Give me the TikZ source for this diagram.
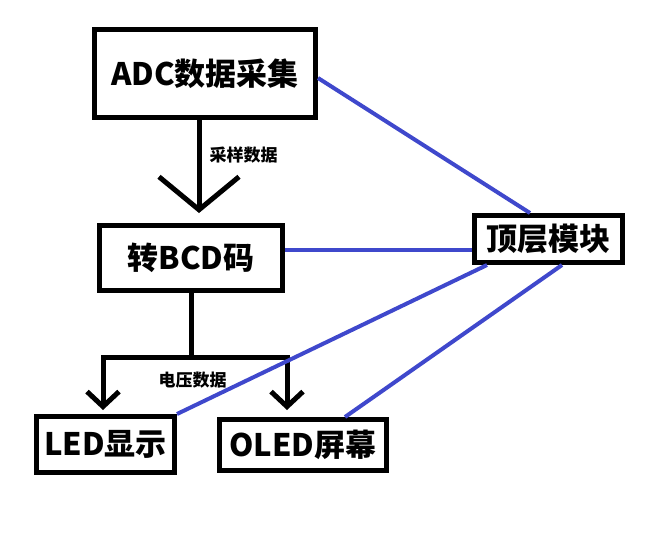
\documentclass[tikz,border=0pt]{standalone}
\usepackage{fontspec}
\setmainfont{Noto Sans CJK SC}
\usepackage{tikz}
\usetikzlibrary{arrows.meta,calc}
\usetikzlibrary{positioning}
\definecolor{paintblue}{RGB}{63,72,204}

\begin{document}
\begin{tikzpicture}[x=1pt,y=-1pt,line join=miter,
  box/.style={draw,line width=5pt,inner sep=0pt,font=\fontsize{31}{33}\selectfont\bfseries},
  link/.style={line width=5pt},
  wire/.style={draw=paintblue,line width=4pt},
  note/.style={font=\fontsize{17}{19}\selectfont\bfseries}]
\useasboundingbox (0,0) rectangle (669,536);
% --- blocks
\node[box,minimum width=221pt,minimum height=88pt] (adc) at (205,73.5) {ADC数据采集};
\node[box,minimum width=183pt,minimum height=65pt] (bcd) at (191,258) {转BCD码};
\node[box,minimum width=148pt,minimum height=47pt] (top) at (548.5,239) {顶层模块};
\node[box,minimum width=138pt,minimum height=56pt] (led) at (105.5,444.5) {LED显示};
\node[box,minimum width=167pt,minimum height=51pt] (oled) at (303,445) {OLED屏幕};
% --- data flow
\draw[link,-{Straight Barb[length=33pt,width=80pt]}] ([xshift=-6pt]adc.south) -- ([xshift=8pt,yshift=10pt]bcd.north);
\node[note] (samplelbl) at (243.5,155) {采样数据};
\coordinate (fork) at ($(bcd.south)+(0,64)$);
\draw[link] (bcd.south) -- (fork);
\draw[link,-{Straight Barb[length=15pt,width=32pt]}] (fork) -| ([xshift=-2.5pt,yshift=4pt]led.north);
\draw[link,-{Straight Barb[length=15pt,width=32pt]}] (fork) -| ([xshift=-16pt,yshift=7pt]oled.north);
\node[note] (voltlbl) at (192.5,380) {电压数据};
% --- top module links
\draw[wire] ([yshift=-4.5pt]adc.east) -- ([xshift=-18.5pt]top.north);
\draw[wire] ([yshift=8pt]bcd.east) -- ([yshift=-11pt]top.west);
\draw[wire] (led.north east) -- ([xshift=15pt]top.south west);
\draw[wire] ([xshift=42pt]oled.north) -- ([xshift=13.5pt]top.south);
\end{tikzpicture}
\end{document}
